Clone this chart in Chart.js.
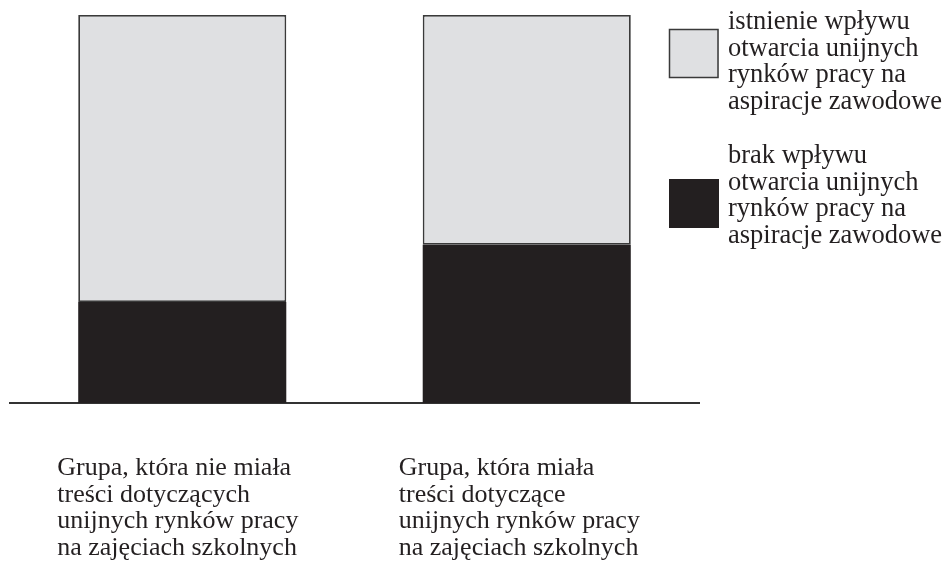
<!DOCTYPE html>
<html>
<head>
<meta charset="utf-8">
<script src="https://cdn.jsdelivr.net/npm/chart.js@4"></script>
<style>
  html, body { margin: 0; padding: 0; background: #fff; }
  #wrap { width: 947px; height: 567px; position: relative; }
</style>
</head>
<body>
<div id="wrap"><canvas id="chart" width="947" height="567"></canvas></div>
<script>
// categories (multi-line labels)
const groups = [
  ["Grupa, która nie miała", "treści dotyczących", "unijnych rynków pracy", "na zajęciach szkolnych"],
  ["Grupa, która miała", "treści dotyczące", "unijnych rynków pracy", "na zajęciach szkolnych"]
];
// series, percent of each group
const noInfluence = [26, 40.8];
const influence = [74, 59.2];
const seriesNames = [
  ["istnienie wpływu", "otwarcia unijnych", "rynków pracy na", "aspiracje zawodowe"],
  ["brak wpływu", "otwarcia unijnych", "rynków pracy na", "aspiracje zawodowe"]
];

const textColor = '#231f20';
const serif = '"Liberation Serif", "Times New Roman", serif';
const lineH = 26.6;

// draws the group labels under the axis and the legend on the right
const textPlugin = {
  id: 'texts',
  afterDraw(chart) {
    const ctx = chart.ctx;
    const x = chart.scales.x;
    const area = chart.chartArea;
    ctx.save();
    ctx.fillStyle = textColor;
    ctx.textBaseline = 'alphabetic';
    ctx.textAlign = 'left';

    ctx.font = '26px ' + serif;
    const shift = [-125, -128];
    groups.forEach((lines, i) => {
      const cx = x.getPixelForValue(i);
      lines.forEach((t, j) => ctx.fillText(t, cx + shift[i], area.bottom + 72 + j * lineH));
    });

    // legend
    ctx.font = '26.5px ' + serif;
    const lx = 669, tx = 728;
    const boxes = [
      { y: 29, fill: '#dfe0e2', stroke: '#3a3a3a', top: 29 },
      { y: 179, fill: '#231f20', stroke: null, top: 163 }
    ];
    boxes.forEach((b, i) => {
      ctx.fillStyle = b.fill;
      ctx.fillRect(lx, b.y, 50, 49);
      if (b.stroke) {
        ctx.strokeStyle = b.stroke;
        ctx.lineWidth = 1.5;
        ctx.strokeRect(lx + 0.5, b.y + 0.5, 48.5, 48);
      }
      ctx.fillStyle = textColor;
      seriesNames[i].forEach((t, j) => ctx.fillText(t, tx, b.top + j * lineH));
    });
    ctx.restore();
  }
};

new Chart(document.getElementById('chart'), {
  type: 'bar',
  data: {
    labels: groups.map(g => g[0]),
    datasets: [
      {
        label: seriesNames[1].join(' '),
        data: noInfluence,
        backgroundColor: '#231f20',
        borderWidth: 0
      },
      {
        label: seriesNames[0].join(' '),
        data: influence,
        backgroundColor: '#dfe0e2',
        borderColor: '#3a3a3a',
        borderWidth: 1.8,
        borderSkipped: false
      }
    ]
  },
  options: {
    responsive: false,
    animation: false,
    layout: { padding: { left: 10, right: 248, top: 15, bottom: 164 } },
    datasets: { bar: { categoryPercentage: 1, barPercentage: 0.604 } },
    plugins: { legend: { display: false }, tooltip: { enabled: false } },
    scales: {
      x: {
        stacked: true,
        grid: { display: false, drawTicks: false },
        ticks: { display: false },
        border: { display: true, color: '#333', width: 2 }
      },
      y: {
        stacked: true,
        display: false,
        min: 0,
        max: 100
      }
    }
  },
  plugins: [textPlugin]
});
</script>
</body>
</html>
